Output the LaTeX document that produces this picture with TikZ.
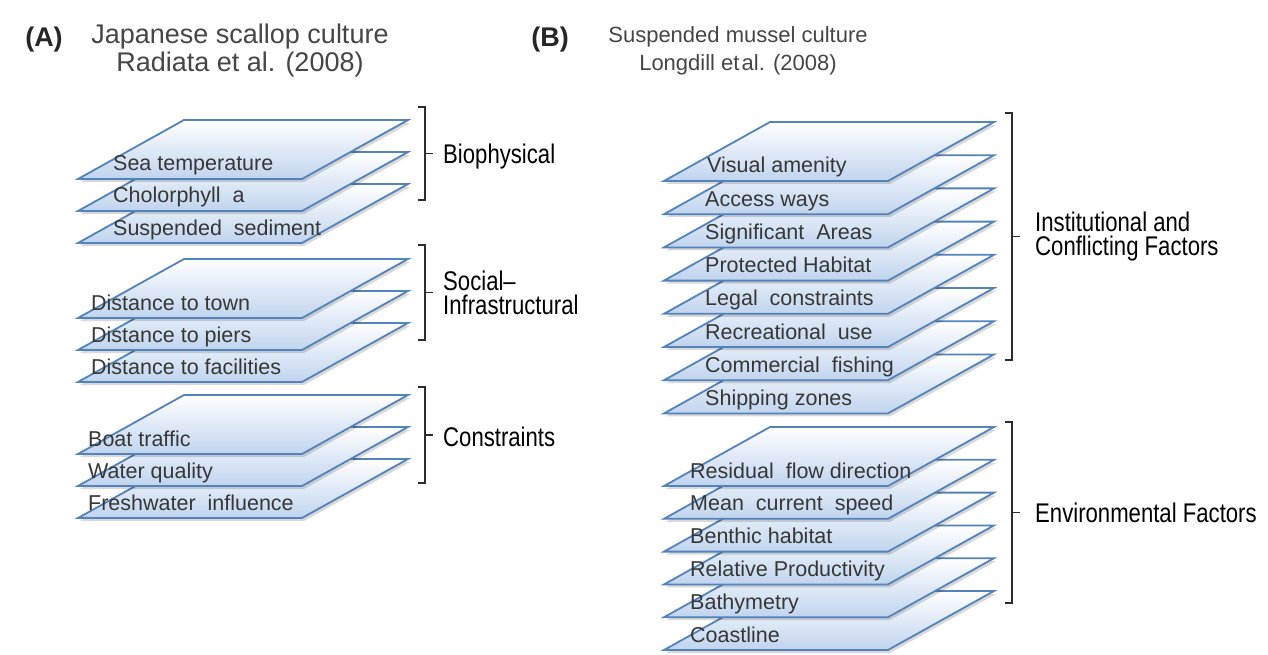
\documentclass[tikz,border=0pt]{standalone}
\usepackage{fontspec}
\setmainfont{Liberation Sans}
\newfontfamily\condfont[FakeStretch=0.82]{Liberation Sans}
\definecolor{edgeblue}{RGB}{84,130,186}
\definecolor{fillblue}{RGB}{192,212,238}
\definecolor{txtgray}{RGB}{55,55,55}
\definecolor{titlegray}{RGB}{70,70,70}
\definecolor{brk}{RGB}{45,45,45}
\tikzset{
  layerbox/.style={draw=edgeblue, line width=1.8pt, line join=miter, top color=white, bottom color=fillblue},
  layershadow/.style={fill=black, opacity=0.15},
  layertext/.style={anchor=base west, inner sep=0pt, text=txtgray, font=\fontsize{21.5}{24}\selectfont},
  grouplabel/.style={anchor=west, inner sep=0pt, align=left, font=\condfont\fontsize{27}{24}\selectfont},
  titletext/.style={align=center, inner sep=0pt, text=titlegray, font=\fontsize{27}{28}\selectfont},
  titletextB/.style={align=center, inner sep=0pt, text=titlegray, font=\fontsize{22}{28}\selectfont},
  paneltag/.style={inner sep=0pt, font=\bfseries\fontsize{27}{28}\selectfont, text=black!85},
  bracketline/.style={draw=brk, line width=1.8pt},
}
% #1 bottom-left x, #2 bottom y, #3 name, #4 text x, #5 text
\newcommand{\mylayer}[5]{%
  \path[layershadow] (#1+2,#2+3) -- ++(224,0) -- ++(106,-59) -- ++(-224,0) -- cycle;
  \path[layerbox] (#1,#2) -- ++(224,0) -- ++(106,-59) -- ++(-224,0) -- cycle;
  \node[layertext] (#3) at (#4,#2-8) {#5};
}
% #1 x, #2 top y, #3 bottom y, #4 name of middle point
\newcommand{\mybracket}[4]{%
  \draw[bracketline] (#1-7,#2) -- (#1,#2) -- (#1,#3) -- (#1-7,#3);
  \coordinate (#4) at (#1,{(#2+#3)/2});
  \coordinate (#4t) at (#1+8,{(#2+#3)/2});
  \draw[bracketline] (#4) -- (#4t);
}
\begin{document}
\begin{tikzpicture}[x=1pt,y=-1pt]
\useasboundingbox (0,0) rectangle (1268,655);
\fill[white] (0,0) rectangle (1268,655);

% ---------- Panel A ----------
\node[paneltag] (tagA) at (44,40) {(A)};
\node[titletext] (titleA) at (240,51) {Japanese scallop culture\\Radiata et al. (2008)};

% group 1
\mylayer{78}{243}{a3}{113}{Suspended\ \ sediment}
\mylayer{78}{211}{a2}{113}{Cholorphyll\ \ a}
\mylayer{78}{179}{a1}{113}{Sea temperature}
% group 2
\mylayer{78}{382}{a6}{91}{Distance\ to facilities}
\mylayer{78}{350}{a5}{91}{Distance\ to piers}
\mylayer{78}{318}{a4}{91}{Distance\ to town}
% group 3
\mylayer{78}{518}{a9}{88}{Freshwater\ \ influence}
\mylayer{78}{486}{a8}{88}{Water quality}
\mylayer{78}{454}{a7}{88}{Boat traffic}

\mybracket{425}{107}{200}{bA1}
\node[grouplabel] (gA1) at (443,157) {Biophysical};
\mybracket{425}{245}{340}{bA2}
\node[grouplabel] (gA2) at (443,293) {Social–\\Infrastructural};
\mybracket{425}{387}{483}{bA3}
\node[grouplabel] (gA3) at (443,437) {Constraints};

% ---------- Panel B ----------
\node[paneltag] (tagB) at (550,40) {(B)};
\node[titletextB] (titleB) at (738,51) {Suspended mussel culture\\Longdill et\hspace{0.1em}al. (2008)};

% institutional group
\mylayer{664}{413.4}{b8}{705}{Shipping zones}
\mylayer{664}{380.2}{b7}{705}{Commercial\ \ fishing}
\mylayer{664}{347}{b6}{705}{Recreational\ \ use}
\mylayer{664}{313.8}{b5}{705}{Legal\ \ constraints}
\mylayer{664}{280.6}{b4}{705}{Protected\ Habitat}
\mylayer{664}{247.4}{b3}{705}{Significant\ \ Areas}
\mylayer{664}{214.2}{b2}{705}{Access ways}
\mylayer{664}{181}{b1}{707}{Visual amenity}
% environmental group
\mylayer{664}{650}{b14}{690}{Coastline}
\mylayer{664}{617.2}{b13}{690}{Bathymetry}
\mylayer{664}{584.4}{b12}{690}{Relative\ Productivity}
\mylayer{664}{551.6}{b11}{690}{Benthic\ habitat}
\mylayer{664}{518.8}{b10}{690}{Mean\ \ current\ \ speed}
\mylayer{664}{486}{b9}{690}{Residual\ \ flow\ direction}

\mybracket{1012}{113}{360}{bB1}
\node[grouplabel] (gB1) at (1035,237) {Institutional and\\Conflicting Factors};
\mybracket{1012}{422}{603}{bB2}
\node[grouplabel] (gB2) at (1035,513) {Environmental Factors};
\end{tikzpicture}
\end{document}
